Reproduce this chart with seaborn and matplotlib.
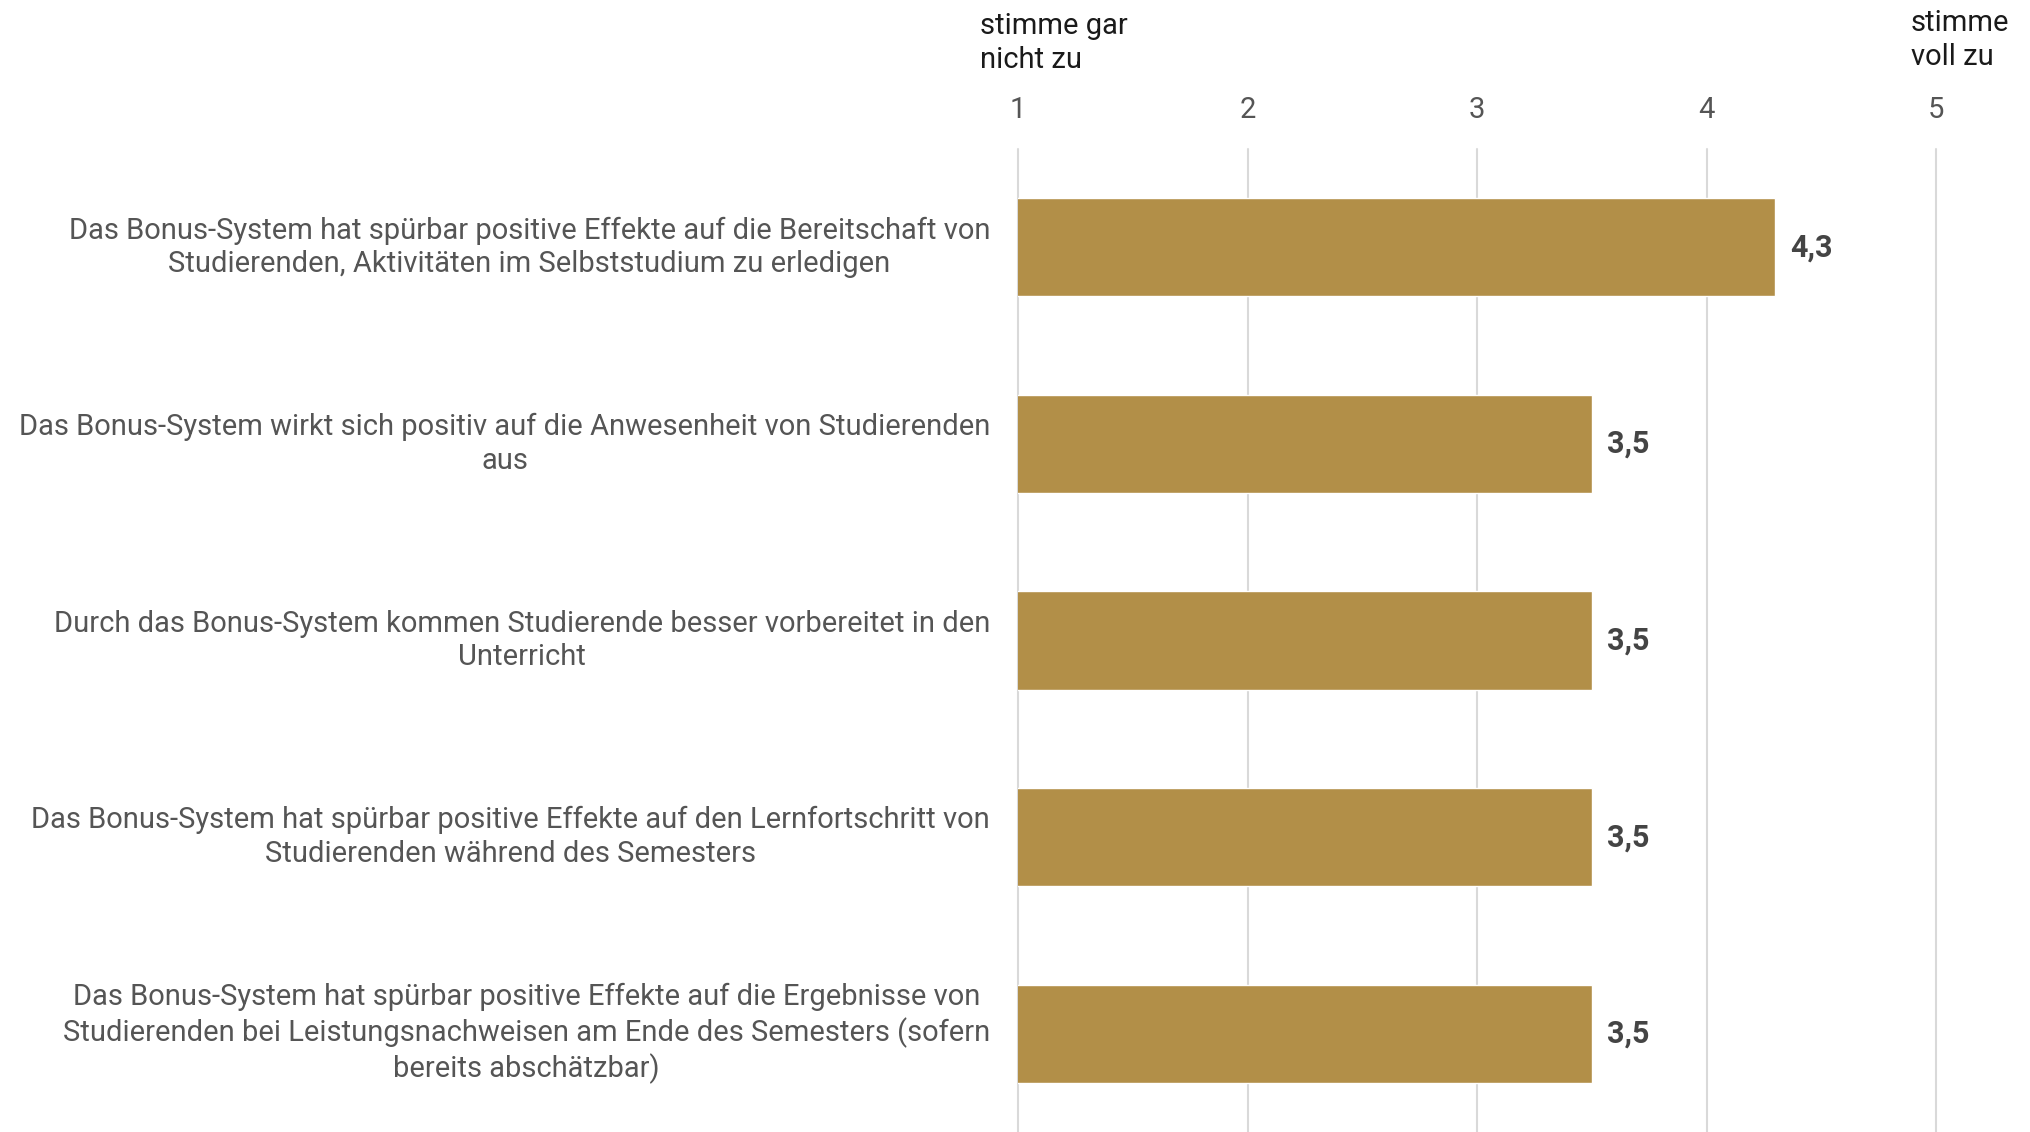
import numpy as np
import matplotlib.pyplot as plt
import seaborn as sns

# Daten
aussagen = [
    "Das Bonus-System hat spürbar positive Effekte auf die Bereitschaft von\nStudierenden, Aktivitäten im Selbststudium zu erledigen",
    "Das Bonus-System wirkt sich positiv auf die Anwesenheit von Studierenden\naus",
    "Durch das Bonus-System kommen Studierende besser vorbereitet in den\nUnterricht",
    "Das Bonus-System hat spürbar positive Effekte auf den Lernfortschritt von\nStudierenden während des Semesters",
    "Das Bonus-System hat spürbar positive Effekte auf die Ergebnisse von\nStudierenden bei Leistungsnachweisen am Ende des Semesters (sofern\nbereits abschätzbar)",
]
mittelwerte = [4.3, 3.5, 3.5, 3.5, 3.5]
skala = [1, 2, 3, 4, 5]
skala_links = "stimme gar\nnicht zu"
skala_rechts = "stimme\nvoll zu"

sns.set_style("white")
plt.rcParams['font.family'] = ['Roboto', 'DejaVu Sans']

fig = plt.figure(figsize=(20.3, 11.32), dpi=100)
ax = fig.add_axes([1018 / 2030, 0, (1936 - 1018) / 2030, 1 - 149 / 1132])

sns.barplot(x=mittelwerte, y=aussagen, orient="h", color="#B28F48",
            saturation=1, width=0.5, ax=ax)

ax.set_xlim(1, 5)
ax.set_ylim(4.5, -0.5)
ax.set_xticks(skala)
ax.xaxis.tick_top()
ax.tick_params(axis="x", length=0, pad=18, labelsize=21, labelcolor="#555555")
ax.tick_params(axis="y", length=0, pad=20, labelsize=21, labelcolor="#555555")
for lbl in ax.get_yticklabels():
    lbl.set_multialignment("center")
    lbl.set_verticalalignment("center")
    lbl.set_linespacing(1.25)

ax.grid(axis="x", color="#d9d9d9", linewidth=1.5)
ax.grid(axis="y", visible=False)
ax.set_axisbelow(True)
for gl in ax.get_xgridlines():
    gl.set_clip_on(False)
sns.despine(ax=ax, left=True, bottom=True, top=True, right=True)

# Werte an den Balken
for i, v in enumerate(mittelwerte):
    ax.text(v + 0.065, i, f"{v:.1f}".replace(".", ","), va="center", ha="left",
            fontsize=22, fontweight="bold", color="#444444")

# Skalenbeschriftung
ax.text(0.834, 1.139, skala_links, transform=ax.get_xaxis_transform(),
        ha="left", va="top", fontsize=21, color="#1a1a1a",
        linespacing=1.25, clip_on=False)
ax.text(4.891, 1.142, skala_rechts, transform=ax.get_xaxis_transform(),
        ha="left", va="top", fontsize=21, color="#1a1a1a",
        linespacing=1.25, clip_on=False)

ax.set_xlabel("")
ax.set_ylabel("")
fig.savefig("out.png", dpi=100)
